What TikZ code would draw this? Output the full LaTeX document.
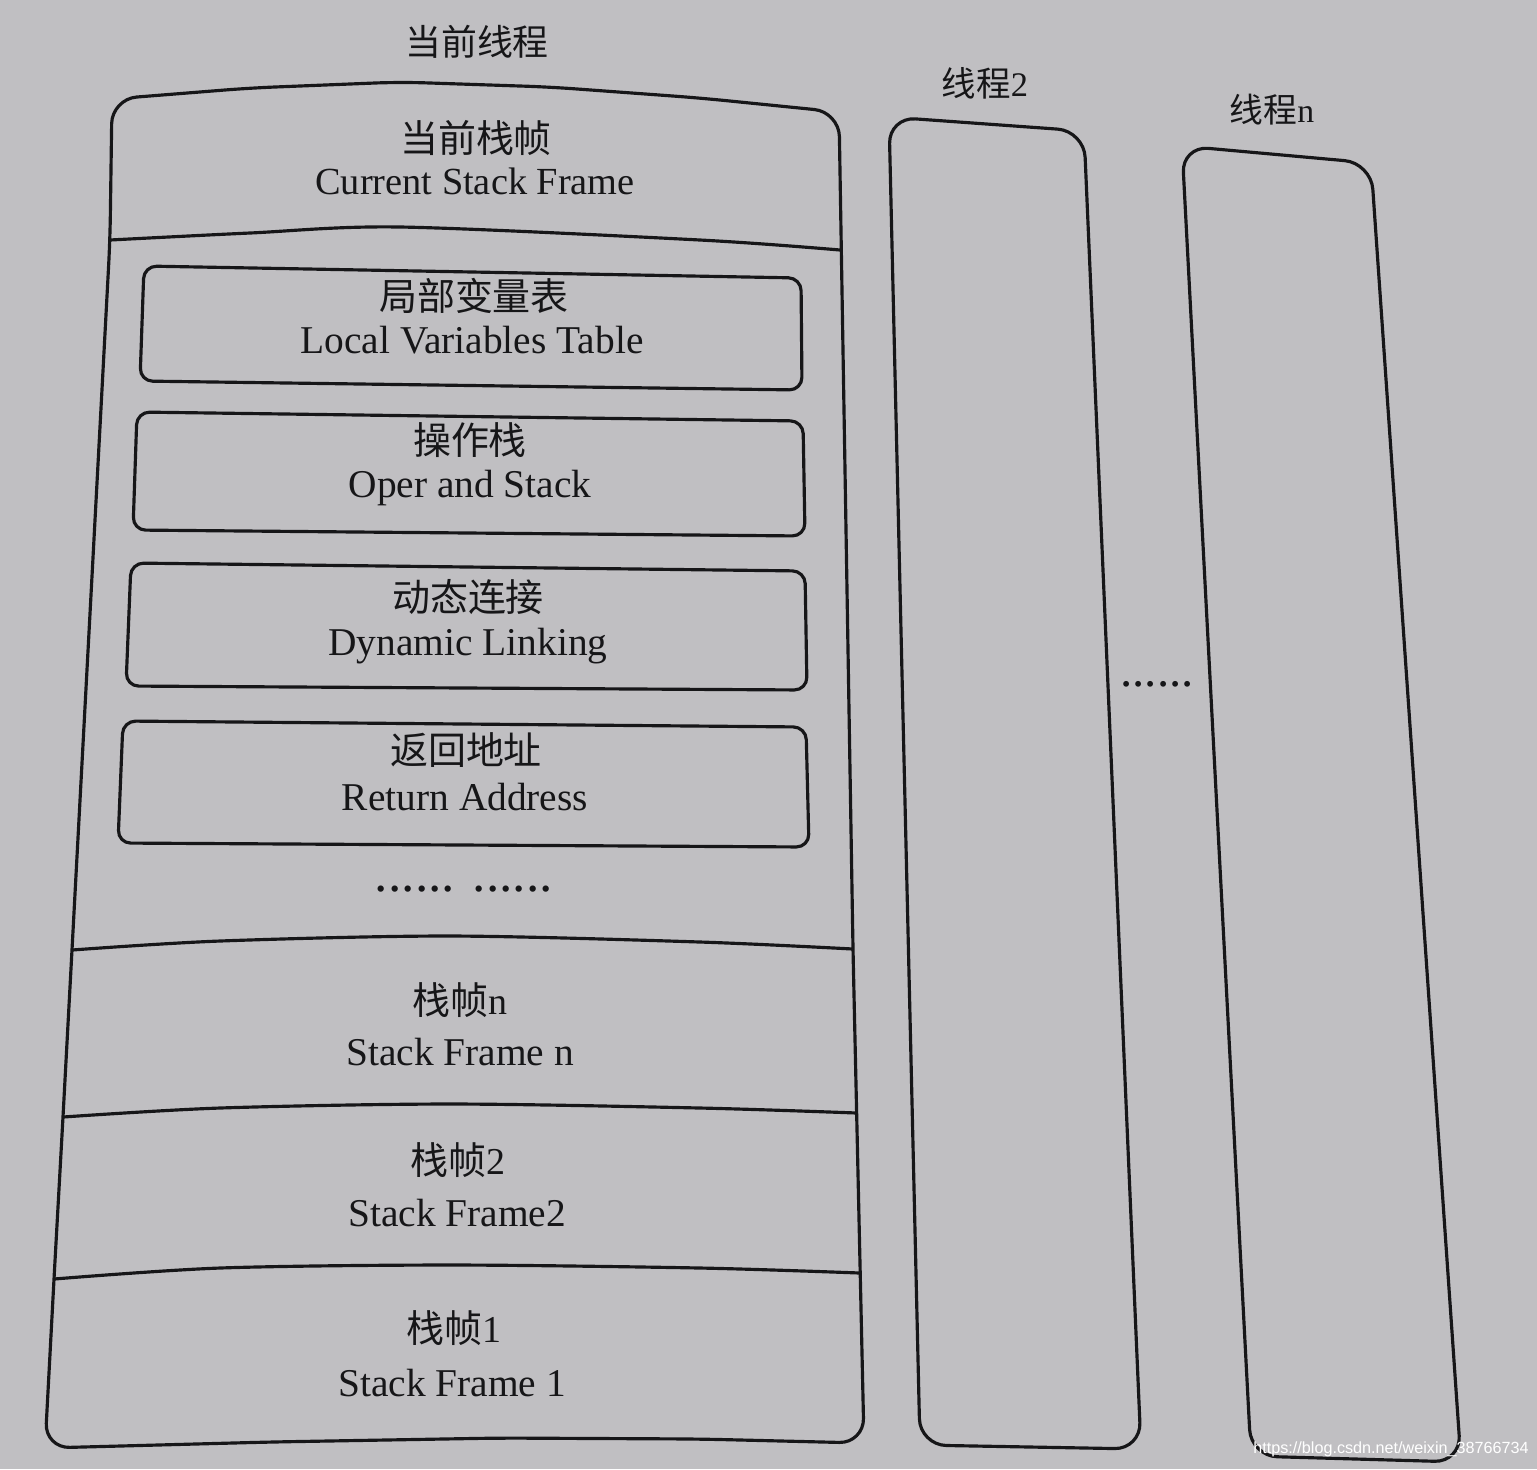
\documentclass[tikz,border=0pt]{standalone}
\usepackage{fontspec}
\setmainfont{Liberation Serif}
\newfontfamily\cjk{Noto Sans CJK SC}
\newfontfamily\wmfont{Liberation Sans}
\definecolor{paper}{RGB}{192,191,194}
\definecolor{ink}{RGB}{22,22,24}
\begin{document}
\begin{tikzpicture}[x=0.01cm,y=-0.01cm,
  outline/.style={draw=ink, line width=0.9pt, line join=round},
  mainframe/.style={outline, rounded corners=7pt},
  innerbox/.style={outline, rounded corners=3.6pt},
  threadbox/.style={outline, rounded corners=7.5pt},
  divider/.style={draw=ink, line width=0.9pt},
  zh/.style={font=\cjk\fontsize{10.8}{12}\selectfont, text=ink, inner sep=0pt},
  zhtitle/.style={font=\cjk\fontsize{10.2}{12}\selectfont, text=ink, inner sep=0pt},
  en/.style={font=\fontsize{11.2}{13}\selectfont, text=ink, inner sep=0pt, anchor=base},
  dotrow/.style={font=\fontsize{15.2}{16}\selectfont, text=ink, inner sep=0pt, anchor=base},
]
\useasboundingbox[fill=paper] (0,0) rectangle (1537,1469);

% ---------- current thread (main stack) ----------
\draw[mainframe] (112,99) -- (250,88) -- (400,82) -- (550,87) -- (700,98) -- (839,112)
  -- (846,530) -- (853,950) -- (864,1443)
  -- (700,1439) -- (500,1438) -- (270,1442) -- (45,1448)
  -- (54,1279) -- (63,1117) -- (72,950) -- (110,240) -- cycle;

\draw[divider] plot[smooth] coordinates {(110,240) (250,233) (400,227) (700,240) (840,250)};
\draw[divider] plot[smooth] coordinates {(72,950) (220,941) (450,936) (700,942) (853,949)};
\draw[divider] plot[smooth] coordinates {(63,1117) (220,1108) (450,1104) (700,1108) (857,1113)};
\draw[divider] plot[smooth] coordinates {(54,1279) (220,1268) (450,1265) (700,1268) (860,1273)};

% inner boxes
\draw[innerbox] (144,266) -- (801,278) -- (802,390) -- (140,381) -- cycle;
\draw[innerbox] (137,412) -- (803,421) -- (805,536) -- (133,530) -- cycle;
\draw[innerbox] (131,563) -- (805,571) -- (807,690) -- (126,686) -- cycle;
\draw[innerbox] (123,721) -- (806,727) -- (809,847) -- (118,843) -- cycle;

% texts of the current thread
\node[zhtitle] (t_main) at (477,42) {当前线程};
\node[zh] (cf_zh) at (476,138) {当前栈帧};
\node[en, font=\fontsize{10.9}{13}\selectfont] (cf_en) at (475,194) {Current Stack Frame};
\node[zh] (lv_zh) at (474,296) {局部变量表};
\node[en] (lv_en) at (472,353) {Local Variables Table};
\node[zh] (os_zh) at (470,440) {操作栈};
\node[en] (os_en) at (470,497) {Oper and Stack};
\node[zh] (dl_zh) at (468,597) {动态连接};
\node[en] (dl_en) at (468,655) {Dynamic Linking};
\node[zh] (ra_zh) at (466,750) {返回地址};
\node[en] (ra_en) at (465,810) {Return Address};
\node[dotrow] (dots_a) at (464,891) {...... ......};
\node[zh] (sfn_zh) at (460,1000) {{\cjk 栈帧}\fontspec{Liberation Serif}n};
\node[en] (sfn_en) at (460,1065) {Stack Frame n};
\node[zh] (sf2_zh) at (458,1160) {{\cjk 栈帧}\fontspec{Liberation Serif}2};
\node[en] (sf2_en) at (457,1226) {Stack Frame2};
\node[zh] (sf1_zh) at (454,1328) {{\cjk 栈帧}\fontspec{Liberation Serif}1};
\node[en] (sf1_en) at (452,1396) {Stack Frame 1};

% ---------- thread 2 ----------
\draw[threadbox] (889,117) -- (1084,131) -- (1141,1449) -- (920,1445) -- cycle;
\node[zhtitle, font=\cjk\fontsize{9.8}{12}\selectfont] (t_two) at (985,83) {线程\fontspec{Liberation Serif}2};

% ---------- thread n ----------
\draw[threadbox] (1182,146) -- (1371,163) -- (1461,1462) -- (1251,1456) -- cycle;
\node[zhtitle, font=\cjk\fontsize{9.6}{12}\selectfont] (t_n) at (1272,110) {线程\fontspec{Liberation Serif}n};

% dots between the threads
\node[dotrow, font=\fontsize{13.9}{15}\selectfont] (dots_b) at (1157,686) {......};

% watermark
\node[font=\wmfont\fontsize{4.6}{5}\selectfont, text=white, inner sep=0pt] (wm) at (1391,1449) {https://blog.csdn.net/weixin\_38766734};
\end{tikzpicture}
\end{document}
